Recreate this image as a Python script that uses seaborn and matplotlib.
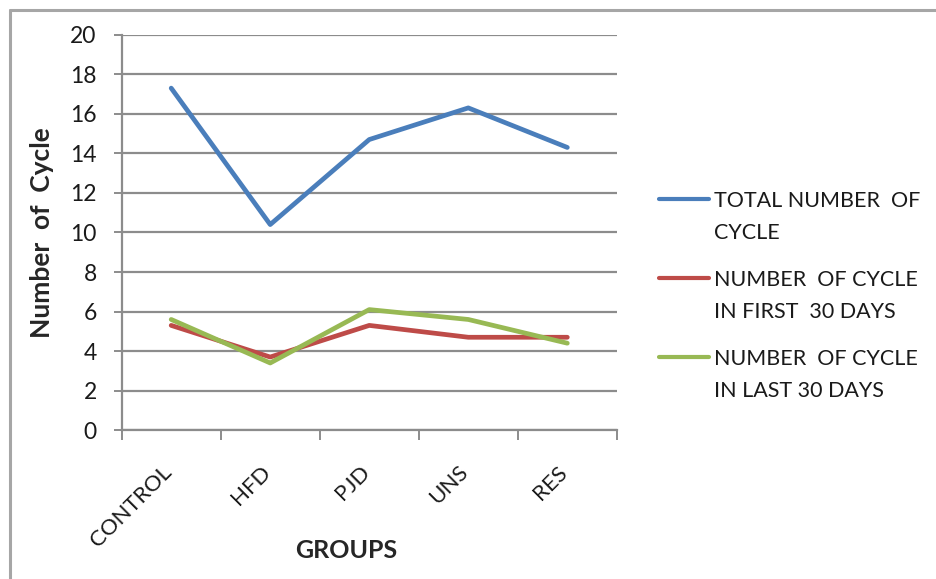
import matplotlib
matplotlib.use("Agg")
import matplotlib.pyplot as plt
import matplotlib.transforms as mtransforms
from matplotlib.lines import Line2D
import seaborn as sns
import pandas as pd

groups = ["CONTROL", "HFD", "PJD", "UNS", "RES"]
total_cycles = [17.3, 10.4, 14.7, 16.3, 14.3]
first_30_days = [5.3, 3.7, 5.3, 4.7, 4.7]
last_30_days = [5.6, 3.4, 6.1, 5.6, 4.4]
series_names = [
    "TOTAL NUMBER  OF\nCYCLE",
    "NUMBER  OF CYCLE\nIN FIRST  30 DAYS",
    "NUMBER  OF CYCLE\nIN LAST 30 DAYS",
]
y_ticks = list(range(0, 21, 2))

df = pd.DataFrame({
    "group": groups * 3,
    "cycles": total_cycles + first_30_days + last_30_days,
    "series": [series_names[0]] * 5 + [series_names[1]] * 5 + [series_names[2]] * 5,
})

sns.set_theme(style="white")
plt.rcParams["font.family"] = ["Lato", "DejaVu Sans"]

fig = plt.figure(figsize=(9.36, 5.79), dpi=100)
ax = fig.add_axes([0.130, 0.257, 0.529, 0.683])

grid_color = "#8c8c8c"
palette = ["#4a7ebb", "#be4b48", "#98b954"]

sns.lineplot(data=df, x="group", y="cycles", hue="series", palette=palette,
             sort=False, linewidth=3.4, ax=ax, legend=True)

ax.set_xlim(-0.5, 4.5)
ax.set_ylim(0, 20)
ax.set_yticks(y_ticks)
ax.set_yticklabels([str(v) for v in y_ticks], fontsize=16.5, color="#1a1a1a")
ax.yaxis.grid(True, color=grid_color, linewidth=1.6)
ax.set_axisbelow(True)

for side in ["top", "right"]:
    ax.spines[side].set_visible(False)
for side in ["left", "bottom"]:
    ax.spines[side].set_color(grid_color)
    ax.spines[side].set_linewidth(1.6)

ax.tick_params(axis="y", which="major", left=True, length=6, width=1.4,
               color=grid_color, pad=12)

# category labels at centres, boundary tick marks as minor ticks
ax.set_xticks(range(len(groups)))
ax.set_xticklabels(groups, rotation=45, ha="right", rotation_mode="anchor",
                   fontsize=16, color="#1a1a1a")
ax.set_xticks([i - 0.5 for i in range(len(groups) + 1)], minor=True)
ax.tick_params(axis="x", which="major", length=0, pad=23)
ax.tick_params(axis="x", which="minor", bottom=True, length=7, width=1.4,
               color=grid_color)
label_shift = mtransforms.ScaledTranslation(-0.10, 0, fig.dpi_scale_trans)
for lbl in ax.get_xticklabels():
    lbl.set_transform(lbl.get_transform() + label_shift)

ax.set_xlabel("GROUPS", fontsize=18, fontweight="bold")
ax.set_ylabel("Number  of  Cycle", fontsize=19, fontweight="bold")
ax.xaxis.set_label_coords(0.4535, -0.276)
ax.yaxis.set_label_coords(-0.136, 0.5)

leg = ax.legend(loc="upper left", bbox_to_anchor=(1.067, 0.626), frameon=False,
                fontsize=15.5, handlelength=2.35, handletextpad=0.2,
                labelspacing=1.26, borderaxespad=0)
for t in leg.get_texts():
    t.set_linespacing(1.74)
    t.set_color("#1a1a1a")
for h in leg.legend_handles:
    h.set_linewidth(3.0)
for col in leg._legend_handle_box.get_children():
    for row in col.get_children():
        row.align = "top"

# outer frame (left and top edges)
frame_color = "#a6a6a6"
fig.add_artist(Line2D([9.5 / 936, 9.5 / 936], [0, 1 - 9.5 / 579],
                      color=frame_color, linewidth=2.2, transform=fig.transFigure))
fig.add_artist(Line2D([9.5 / 936, 1], [1 - 9.5 / 579, 1 - 9.5 / 579],
                      color=frame_color, linewidth=2.2, transform=fig.transFigure))

fig.savefig("out.png", dpi=100)
